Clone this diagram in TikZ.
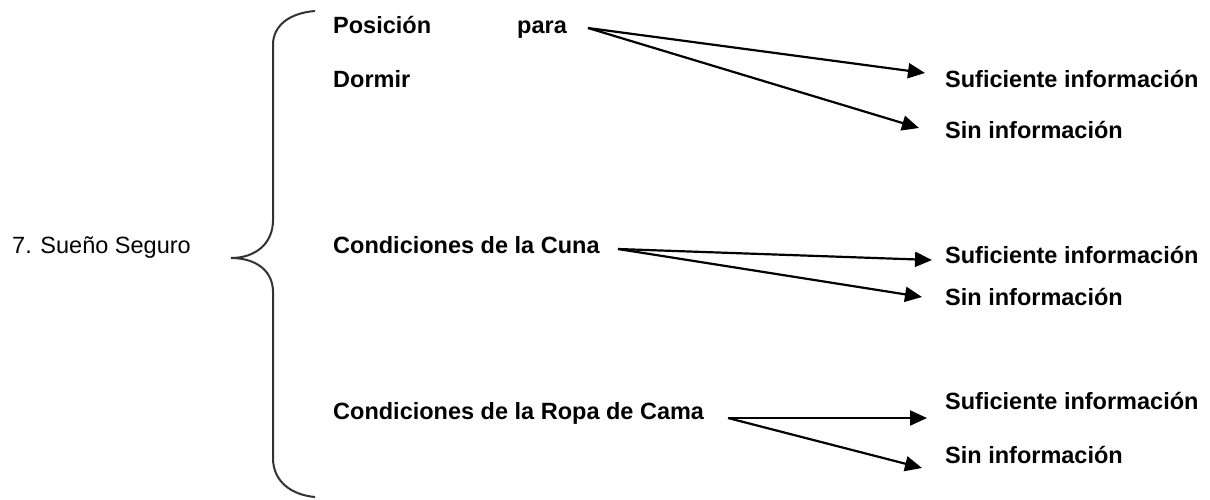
\documentclass[tikz,border=0pt]{standalone}
\usepackage{fontspec}
\setmainfont{Liberation Sans}
\usetikzlibrary{arrows.meta}
\begin{document}
\begin{tikzpicture}[x=1pt,y=-1pt,
  lbl/.style={anchor=base west,inner sep=0pt,font=\fontsize{23.5}{28}\selectfont\bfseries},
  plain/.style={anchor=base west,inner sep=0pt,font=\fontsize{23.5}{28}\selectfont},
  arr/.style={line width=2.2pt,-{Triangle[length=17pt,width=15pt]}},
  bracestyle/.style={line width=2pt,draw=black!80}]
\useasboundingbox[fill=white] (0,0) rectangle (1210,499);
% left label
\node[plain] (title) at (12,253) {7. Sueño Seguro};
% brace
\draw[bracestyle] (315,11) .. controls (290,13) and (273,25) .. (273,45)
  -- (273,220) .. controls (273,244) and (255,258) .. (231,258)
  .. controls (255,258) and (273,270) .. (273,292)
  -- (273,458) .. controls (273,482) and (292,495) .. (315,497);
% group 1
\node[lbl] (pos) at (333,33) {Posición};
\node[lbl] (para) at (517,33) {para};
\node[lbl] (dor) at (333,87) {Dormir};
\node[lbl] (s1) at (945,87) {Suficiente información};
\node[lbl] (n1) at (945,138) {Sin información};
\coordinate (o1) at (588,28);
\coordinate (t1a) at (925,73);
\coordinate (t1b) at (919,128);
\draw[arr] (o1) -- (t1a);
\draw[arr] (o1) -- (t1b);
% group 2
\node[lbl] (cuna) at (333,253) {Condiciones de la Cuna};
\node[lbl] (s2) at (945,263) {Suficiente información};
\node[lbl] (n2) at (945,305) {Sin información};
\coordinate (o2) at (618,249);
\coordinate (t2a) at (932,260);
\coordinate (t2b) at (922,297);
\draw[arr] (o2) -- (t2a);
\draw[arr] (o2) -- (t2b);
% group 3
\node[lbl] (ropa) at (333,419) {Condiciones de la Ropa de Cama};
\node[lbl] (s3) at (945,409) {Suficiente información};
\node[lbl] (n3) at (945,463) {Sin información};
\coordinate (o3) at (728,418);
\coordinate (t3a) at (927,418);
\coordinate (t3b) at (922,468);
\draw[arr] (o3) -- (t3a);
\draw[arr] (o3) -- (t3b);
\end{tikzpicture}
\end{document}
